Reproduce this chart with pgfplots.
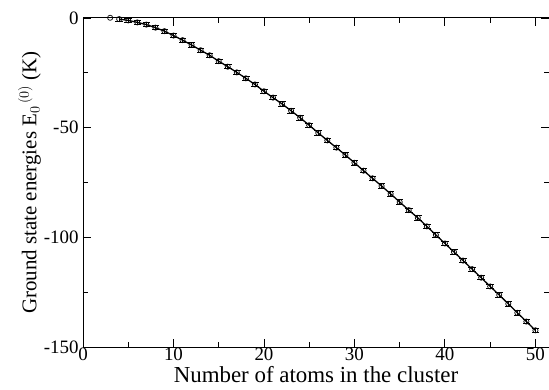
\documentclass[border=0pt]{standalone}
\usepackage{fontspec}
\setmainfont{Liberation Serif}
\usepackage{pgfplots}
\pgfplotsset{compat=1.18}

% Ground state energy versus cluster size
\pgfplotstableread{
N   E      err
4   -0.5   1.0
5   -1.1   1.0
6   -2.0   1.0
7   -3.0   1.0
8   -4.4   1.0
9   -6.0   1.0
10  -8.0   1.0
11  -10.1  1.0
12  -12.3  1.0
13  -14.7  1.0
14  -17.0  1.0
15  -19.7  1.0
16  -22.2  1.0
17  -24.8  1.0
18  -27.5  1.0
19  -30.3  1.0
20  -33.4  1.0
21  -36.3  1.0
22  -39.2  1.0
23  -42.3  1.0
24  -45.5  1.0
25  -48.9  1.0
26  -52.4  1.0
27  -55.8  1.0
28  -59.1  1.0
29  -62.5  1.0
30  -66.0  1.0
31  -69.6  1.0
32  -73.1  1.0
33  -76.6  1.0
34  -80.2  1.0
35  -83.9  1.0
36  -87.6  1.0
37  -91.1  1.0
38  -95.0  1.0
39  -98.9  1.0
40  -102.8 1.0
41  -106.7 1.0
42  -110.6 1.0
43  -114.5 1.0
44  -118.4 1.0
45  -122.4 1.0
46  -126.3 1.0
47  -130.3 1.0
48  -134.4 1.0
49  -138.4 1.0
50  -142.4 1.0
}\energies

\begin{document}
\begin{tikzpicture}
\begin{axis}[
  name=ax,
  scale only axis,
  width=466bp, height=329bp,
  xmin=0, xmax=51.5,
  ymin=-150, ymax=0,
  xtick={0,10,20,30,40,50},
  minor xtick={5,15,25,35,45},
  ytick={-150,-100,-50,0},
  yticklabels={-150,-100,-50,0},
  minor ytick={-125,-75,-25},
  tick align=inside,
  major tick length=8bp,
  minor tick length=5bp,
  tick style={black, line width=0.9pt},
  axis line style={line width=1pt},
  /pgf/number format/assume math mode=true,
  tick label style={font=\fontsize{19}{19}\selectfont},
  xlabel={Number of atoms in the cluster},
  ylabel={Ground state energies E$_0{}^{\,(0)}$ (K)},
  xlabel style={font=\fontsize{23}{23}\selectfont, yshift=1bp},
  ylabel style={font=\fontsize{21}{21}\selectfont, yshift=-4bp},
  xticklabel style={yshift=2.5bp},
  yticklabel style={xshift=-1bp},
  clip=false,
]
\addplot[black, line width=1.3pt,
  mark=o, mark size=2.6pt,
  mark options={solid, line width=0.7pt, fill=white},
  error bars/.cd, y dir=both, y explicit,
  error bar style={line width=0.8pt},
  error mark options={rotate=90, mark size=3.8pt, line width=0.8pt}]
  table[x=N, y=E, y error=err] {\energies};
\addplot[black, only marks, mark=o, mark size=2.6pt,
  mark options={line width=0.7pt}]
  coordinates {(3,0.1)};
\end{axis}
\pgfresetboundingbox
\path[use as bounding box] (ax.south west) ++(-83bp,-43bp) rectangle ([shift={(466bp,347bp)}]ax.south west);
\end{tikzpicture}
\end{document}
